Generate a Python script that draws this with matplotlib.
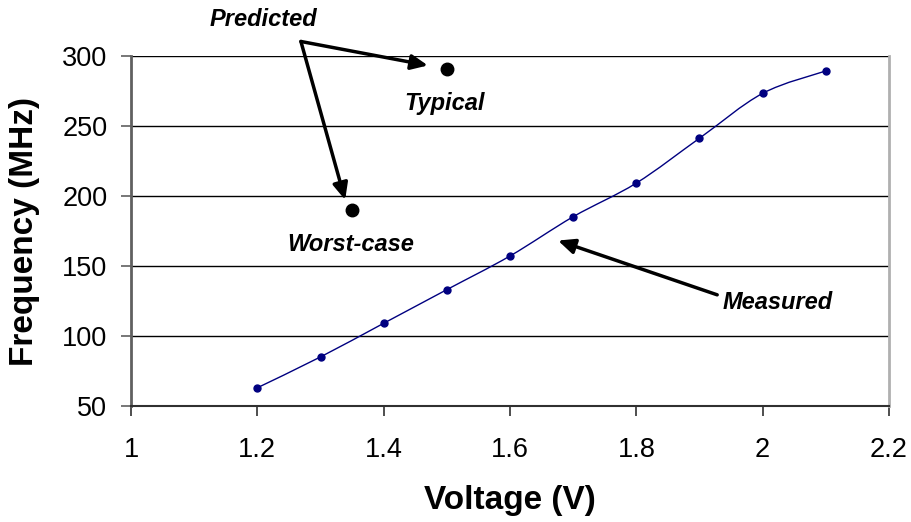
import matplotlib
matplotlib.use("Agg")
import matplotlib.pyplot as plt
import numpy as np
from matplotlib.path import Path
from matplotlib.patches import PathPatch

# Data
voltage = [1.2, 1.3, 1.4, 1.5, 1.6, 1.7, 1.8, 1.9, 2.0, 2.1]
freq_measured = [63, 85, 109, 133, 157, 185, 209, 241, 273, 289]
pred_voltage = [1.5, 1.35]
pred_freq = [290.5, 190]
xticks = [1, 1.2, 1.4, 1.6, 1.8, 2, 2.2]
xticklabels = ["1", "1.2", "1.4", "1.6", "1.8", "2", "2.2"]
yticks = [50, 100, 150, 200, 250, 300]

plt.rcParams['font.family'] = ['Liberation Sans', 'DejaVu Sans']

W, H = 911, 522
fig = plt.figure(figsize=(W / 100, H / 100), dpi=100)
ax = fig.add_axes([131 / W, 1 - 406 / H, 758 / W, 350.5 / H])
ax.set_xlim(1, 2.2)
ax.set_ylim(50, 300)

# gridlines
for y in yticks[1:]:
    ax.axhline(y, color='black', lw=1.0, zorder=1)

# Smoothed line (Excel-style Catmull-Rom Bezier)
pts = np.column_stack([voltage, freq_measured]).astype(float)
n = len(pts)
verts = [pts[0]]
codes = [Path.MOVETO]
for i in range(n - 1):
    p0 = pts[i - 1] if i > 0 else pts[i]
    p1 = pts[i]
    p2 = pts[i + 1]
    p3 = pts[i + 2] if i + 2 < n else pts[i + 1]
    c1 = p1 + (p2 - p0) / 6.0
    c2 = p2 - (p3 - p1) / 6.0
    verts += [c1, c2, p2]
    codes += [Path.CURVE4] * 3
ax.add_patch(PathPatch(Path(verts, codes), fill=False, edgecolor='#000080', lw=1.0, zorder=3))
ax.plot(voltage, freq_measured, 'o', color='#000080', ms=5, zorder=4)

# Predicted points
ax.plot(pred_voltage, pred_freq, 'o', color='black', ms=9, zorder=4)

# Spines
ax.spines['top'].set_visible(False)
ax.spines['right'].set_color('#b0b0b0')
ax.spines['right'].set_linewidth(2)
ax.spines['left'].set_color('#606060')
ax.spines['left'].set_linewidth(2)
ax.spines['bottom'].set_color('#303030')
ax.spines['bottom'].set_linewidth(1.5)

ax.set_xticks(xticks)
ax.set_xticklabels(xticklabels)
ax.set_yticks(yticks)
ax.tick_params(axis='x', direction='out', length=7, width=1.2, color='#303030', labelsize=19.5, pad=15)
ax.tick_params(axis='y', direction='out', length=7, width=1.2, color='#606060', labelsize=19.5, pad=10)

# Axis labels
fig.text(25 / W, 1 - 232 / H, "Frequency (MHz)", rotation=90, ha='center', va='center',
         fontsize=24, fontweight='bold')
fig.text(510 / W, 1 - 500 / H, "Voltage (V)", ha='center', va='center',
         fontsize=24, fontweight='bold')

# Annotations
fs = 17
ax.text(1.209, 325.7, "Predicted", ha='center', va='center', fontsize=fs,
        fontweight='bold', fontstyle='italic', clip_on=False)
ax.text(1.497, 265.7, "Typical", ha='center', va='center', fontsize=fs,
        fontweight='bold', fontstyle='italic')
ax.text(1.348, 165, "Worst-case", ha='center', va='center', fontsize=fs,
        fontweight='bold', fontstyle='italic')
ax.text(2.024, 124, "Measured", ha='center', va='center', fontsize=fs,
        fontweight='bold', fontstyle='italic')

arrow_kw = dict(arrowstyle='-|>,head_length=1.0,head_width=0.45', color='black', lw=2.5,
                shrinkA=0, shrinkB=0)
ax.annotate("", xy=(1.470, 292.9), xytext=(1.269, 310), arrowprops=arrow_kw, annotation_clip=False)
ax.annotate("", xy=(1.339, 197), xytext=(1.269, 310), arrowprops=arrow_kw, annotation_clip=False)
ax.annotate("", xy=(1.676, 168), xytext=(1.928, 129.3), arrowprops=arrow_kw, annotation_clip=False)

fig.savefig("out.png", dpi=100)
